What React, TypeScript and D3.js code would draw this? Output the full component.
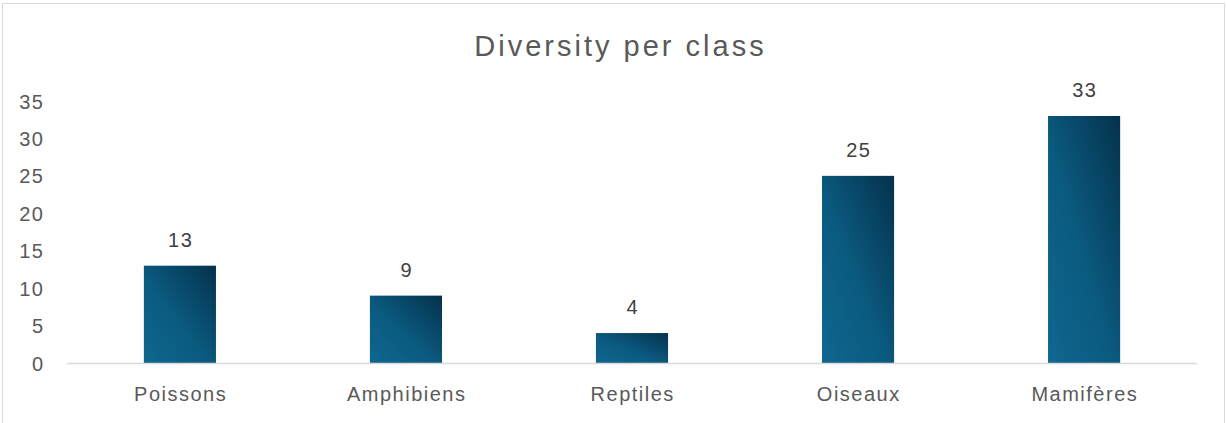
import React from "react";
import * as d3 from "d3";

const categories = ["Poissons", "Amphibiens", "Reptiles", "Oiseaux", "Mamifères"];
const values = [13, 9, 4, 25, 33];
const yTicks = [0, 5, 10, 15, 20, 25, 30, 35];
const title = "Diversity per class";

const W = 1226;
const H = 423;
const plot = { left: 67, right: 1197, top: 101, bottom: 363 };
const FONT = "'Liberation Sans', Arial, sans-serif";
const LS = 1.5;
const TLS = 3;

export default function App() {
  const x = d3
    .scaleBand<string>()
    .domain(categories)
    .range([plot.left, plot.right])
    .paddingInner(0.681)
    .paddingOuter(0.34);
  const y = d3.scaleLinear().domain([0, 35]).range([plot.bottom, plot.top]);

  return (
    <svg
      width={W}
      height={H}
      style={{ position: "absolute", left: 0, top: 0, background: "#fff" }}
    >
      <defs>
        <linearGradient id="barGrad" x1="0" y1="1" x2="1" y2="0">
          <stop offset="0" stopColor="#0f6790" />
          <stop offset="0.45" stopColor="#0b5a80" />
          <stop offset="1" stopColor="#04324b" />
        </linearGradient>
      </defs>
      <rect x={2.5} y={3.5} width={1222} height={440} fill="#fff" stroke="#d9d9d9" strokeWidth={1} />
      <text
        x={619 + TLS / 2}
        y={56}
        textAnchor="middle"
        fontFamily={FONT}
        fontSize={29}
        letterSpacing={TLS}
        fill="#595959"
      >
        {title}
      </text>
      {yTicks.map((t) => (
        <text
          key={t}
          x={43 + LS}
          y={y(t) + 7.5}
          textAnchor="end"
          fontFamily={FONT}
          fontSize={20}
          letterSpacing={LS}
          fill="#595959"
        >
          {t}
        </text>
      ))}
      {categories.map((c, i) => (
        <g key={c}>
          <rect
            x={x(c)!}
            y={y(values[i])}
            width={x.bandwidth()}
            height={y(0) - y(values[i])}
            fill="url(#barGrad)"
          />
          <text
            x={x(c)! + x.bandwidth() / 2 + LS / 2}
            y={y(values[i]) - 19}
            textAnchor="middle"
            fontFamily={FONT}
            fontSize={20}
            letterSpacing={LS}
            fill="#404040"
          >
            {values[i]}
          </text>
          <text
            x={x(c)! + x.bandwidth() / 2 + LS / 2}
            y={401}
            textAnchor="middle"
            fontFamily={FONT}
            fontSize={20}
            letterSpacing={LS}
            fill="#595959"
          >
            {c}
          </text>
        </g>
      ))}
      <line x1={plot.left} x2={plot.right} y1={363.5} y2={363.5} stroke="#d9d9d9" strokeWidth={1.5} />
    </svg>
  );
}
